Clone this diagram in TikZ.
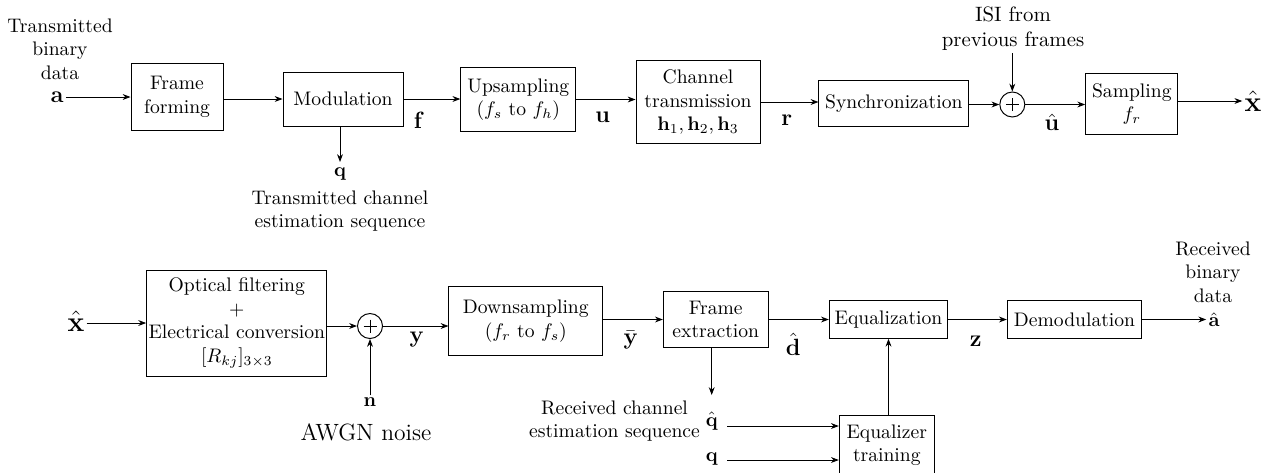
\documentclass[tikz,border=0pt]{standalone}
\usepackage{amsmath}
\usetikzlibrary{arrows.meta,calc}
\tikzset{
  bx/.style 2 args={draw, line width=0.5pt, align=center, minimum width=#1*0.51pt, minimum height=#2*0.51pt, inner sep=1pt},
  sumc/.style={draw, circle, line width=0.5pt, minimum size=25*0.51pt, inner sep=0pt},
  lbl/.style={inner sep=1pt},
  txt/.style={align=center, inner sep=1pt},
  arr/.style={-{Stealth[length=4pt,width=3pt]}, line width=0.45pt},
}
\begin{document}
\begin{tikzpicture}[x=0.51pt,y=-0.51pt]
\useasboundingbox (0,0) rectangle (1275,472);
\clip (0,0) rectangle (1275,472);
% ---------- top row ----------
\node[txt] (txd) at (60,49) {Transmitted\\binary\\data};
\node[lbl] (a) at (57,97) {\large$\mathbf{a}$};
\node[bx={92}{67.5}] (ff) at (177,97) {Frame\\forming};
\node[bx={120}{54}] (mod) at (343,99) {Modulation};
\node[bx={115}{64}] (up) at (518.3,99.5) {Upsampling\\($f_s$ to $f_h$)};
\node[bx={124}{82.6}] (ch) at (698,102) {Channel\\transmission\\$\mathbf{h}_1,\mathbf{h}_2,\mathbf{h}_3$};
\node[bx={149.7}{46.7}] (sync) at (893.8,103.5) {Synchronization};
\node[sumc] (s1) at (1012.3,104.5) {};
\node[bx={92.3}{61}] (samp) at (1131.8,104) {Sampling\\$f_r$};
\node[lbl] (xh1) at (1253,101) {\Large$\hat{\mathbf{x}}$};
\node[txt, font=\fontsize{10.6}{12.8}\selectfont] (isi) at (1013,29) {ISI from\\previous frames};
\node[lbl] (q1) at (340,174) {$\mathbf{q}$};
\node[txt] (tces) at (340,211) {Transmitted channel\\estimation sequence};
\node[lbl] (f) at (419,120) {\large$\mathbf{f}$};
\node[lbl] (u) at (602.7,117) {\large$\mathbf{u}$};
\node[lbl] (r) at (786.7,120) {\large$\mathbf{r}$};
\node[lbl] (uh) at (1052,122) {\large$\hat{\mathbf{u}}$};

\draw[arr] (a.east) -- (a.east -| ff.west);
\draw[arr] (ff.east |- mod.west) -- (mod.west);
\draw[arr] (mod.east) -- (mod.east -| up.west);
\draw[arr] (up.east) -- (up.east -| ch.west);
\draw[arr] (ch.east) -- (ch.east -| sync.west);
\draw[arr] (sync.east |- s1.west) -- (s1.west);
\draw[arr] (s1.east) -- (s1.east -| samp.west);
\draw[arr] (samp.east |- xh1.west) -- (xh1.west);
\draw[arr] (s1.north |- isi.south) -- (s1.north);
\draw[arr] (mod.south -| q1.north) -- (q1.north |- 0,162);
\draw (s1.center) ++(-6.5,0) -- ++(13,0);
\draw (s1.center) ++(0,-6.5) -- ++(0,13);

% ---------- bottom row ----------
\node[lbl] (xh2) at (76,321) {\Large$\hat{\mathbf{x}}$};
\node[bx={178.3}{106}] (opt) at (236.8,323) {Optical filtering\\+\\Electrical conversion\\$[R_{kj}]_{3\times3}$};
\node[sumc] (s2) at (370,326) {};
\node[lbl] (n) at (370,402) {$\mathbf{n}$};
\node[txt, font=\large] (awgn) at (366,432) {AWGN noise};
\node[lbl] (y) at (416.7,340) {\large$\mathbf{y}$};
\node[bx={153.7}{68.3}] (ds) at (525.8,321) {Downsampling\\($f_r$ to $f_s$)};
\node[lbl] (yb) at (630.7,340) {\large$\bar{\mathbf{y}}$};
\node[bx={105}{55.6}] (fe) at (715.8,319.5) {Frame\\extraction};
\node[lbl] (dh) at (793.3,344) {\large$\hat{\mathbf{d}}$};
\node[bx={118.4}{37.6}] (eq) at (888.5,319.5) {Equalization};
\node[lbl] (z) at (975.7,341) {\large$\mathbf{z}$};
\node[bx={134.4}{37.6}] (dem) at (1074.5,319.5) {Demodulation};
\node[lbl] (ah) at (1214,320) {$\hat{\mathbf{a}}$};
\node[txt] (rbd) at (1213,272) {Received\\binary\\data};
\node[bx={95}{60}] (eqt) at (886.8,445) {Equalizer\\training};
\node[lbl] (qh) at (711.7,421) {$\hat{\mathbf{q}}$};
\node[lbl] (q2) at (711.7,459) {$\mathbf{q}$};
\node[txt] (rces) at (614.5,421) {Received channel\\estimation sequence};

\draw[arr] (xh2.east |- opt.west) -- (opt.west);
\draw[arr] (opt.east |- s2.west) -- (s2.west);
\draw[arr] (s2.east) -- (s2.east -| ds.west);
\draw[arr] (n.north) -- (s2.south);
\draw[arr] (ds.east |- fe.west) -- (fe.west);
\draw[arr] (fe.east) -- (fe.east -| eq.west);
\draw[arr] (eq.east) -- (eq.east -| dem.west);
\draw[arr] (dem.east) -- (dem.east -| ah.west);
\draw[arr] (fe.south -| qh.north) -- (qh.north |- 0,395);
\coordinate (qhs) at ($(qh.east)+(7,5)$);
\coordinate (q2s) at ($(q2.east)+(7,1)$);
\draw[arr] (qhs) -- (qhs -| eqt.west);
\draw[arr] (q2s) -- (q2s -| eqt.west);
\draw[arr] (eq.south |- eqt.north) -- (eq.south);
\draw (s2.center) ++(-6.5,0) -- ++(13,0);
\draw (s2.center) ++(0,-6.5) -- ++(0,13);
\end{tikzpicture}
\end{document}
